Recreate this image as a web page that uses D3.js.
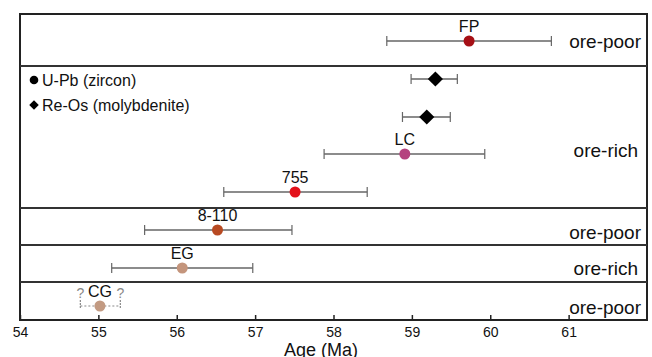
<!DOCTYPE html>
<html><head><meta charset="utf-8">
<script src="https://cdn.jsdelivr.net/npm/d3@7"></script>
<style>body{margin:0;background:#fff}svg{display:block;font-family:Arial,"Liberation Sans",sans-serif}</style>
</head><body><svg id="c" width="652" height="357"></svg>
<script>
const names = ["FP","Re-Os 1","Re-Os 2","LC","755","8-110","EG","CG"];
const ages  = [59.73, 59.30, 59.19, 58.91, 57.51, 56.52, 56.07, 55.02];
const lows  = [58.68, 58.99, 58.88, 57.88, 56.60, 55.59, 55.17, 54.77];
const highs = [60.78, 59.58, 59.49, 59.93, 58.43, 57.47, 56.97, 55.28];
const methods = ["U-Pb","Re-Os","Re-Os","U-Pb","U-Pb","U-Pb","U-Pb","U-Pb"];
const colors = ["#a50f15","#000000","#000000","#b5427f","#e3111a","#b84a22","#c4957c","#c29a82"];
const showLabel = [true,false,false,true,true,true,true,true];
const slots = [0,1,2,3,4,5,6,7];
const rowLabels = ["ore-poor","ore-rich","ore-poor","ore-rich","ore-poor"];
const xTicks = [54,55,56,57,58,59,60,61];

const svg = d3.select("#c");
const L=20, R=647, T=14, B=320;
const x = d3.scaleLinear().domain([54,62]).range([L,R]);
const y = d3.scaleLinear().domain([0,1,2,3,4,5,6,7]).range([41,79,117,154,192,230,268,306]);
const bnd = d3.scaleLinear().domain([0,1,2,3,4,5]).range([T,66,208,245,282,B]);

svg.append("rect").attr("x",L).attr("y",T).attr("width",R-L).attr("height",B-T)
  .attr("fill","none").attr("stroke","#222").attr("stroke-width",2);
[1,2,3,4].forEach(i=>svg.append("line").attr("x1",L).attr("x2",R).attr("y1",bnd(i)).attr("y2",bnd(i))
  .attr("stroke","#333").attr("stroke-width",2));

const ax = svg.append("g").attr("transform",`translate(0,${B})`)
  .call(d3.axisBottom(x).tickValues(xTicks).tickSizeInner(-5).tickSizeOuter(0).tickPadding(7).tickFormat(d3.format("d")));
ax.select(".domain").remove();
ax.selectAll(".tick line").attr("stroke","#222").attr("stroke-width",1.5);
ax.selectAll(".tick text").attr("font-size",14).attr("fill","#111").attr("font-family","Arial,'Liberation Sans',sans-serif");
svg.append("text").attr("x",x(57.84)).attr("y",356).attr("text-anchor","middle").attr("font-size",18).attr("fill","#111").text("Age (Ma)");

rowLabels.forEach((t,i)=>{
  let yy;
  if(i===0) yy = y(0)+7;
  else if(i===1) yy = y(3)+3;
  else if(i===3) yy = y(6)+7;
  else yy = bnd(i+1)-6;
  svg.append("text").attr("x",i===1||i===3?638:641).attr("y",yy).attr("text-anchor","end")
    .attr("font-size",19).attr("fill","#111").text(t);
});

slots.forEach(i=>{
  const dotted = names[i]==="CG";
  const g = svg.append("g").attr("stroke", dotted?"#888":"#666");
  g.append("line").attr("x1",x(lows[i])).attr("x2",x(highs[i])).attr("y1",y(i)).attr("y2",y(i))
    .attr("stroke-dasharray",dotted?"2,2":null).attr("stroke-width",dotted?1.2:1.5);
  [lows[i],highs[i]].forEach(v=>g.append("line").attr("x1",x(v)).attr("x2",x(v))
    .attr("y1",y(i)-(dotted?6:5)).attr("y2",y(i)+(dotted?3:5)).attr("stroke-dasharray",dotted?"2,1":null).attr("stroke-width",1.2));
  if(dotted){
    [lows[i],highs[i]].forEach(v=>svg.append("text").attr("x",x(v)).attr("y",y(i)-8).attr("text-anchor","middle")
      .attr("font-size",14).attr("fill","#888").text("?"));
  }
});

slots.forEach(i=>{
  if(methods[i]==="U-Pb"){
    svg.append("circle").attr("cx",x(ages[i])).attr("cy",y(i)).attr("r",5.5).attr("fill",colors[i]);
  } else {
    svg.append("path").attr("d",d3.symbol().type(d3.symbolSquare).size(115)())
      .attr("transform",`translate(${x(ages[i])},${y(i)}) rotate(45)`).attr("fill",colors[i]);
  }
  if(showLabel[i]){
    svg.append("text").attr("x",x(ages[i])).attr("y",y(i)-9).attr("text-anchor","middle")
      .attr("font-size",16).attr("fill","#111").text(names[i]);
  }
});

const leg = [{m:"U-Pb",t:"U-Pb (zircon)"},{m:"Re-Os",t:"Re-Os (molybdenite)"}];
leg.forEach((d,i)=>{
  const yy = 80 + i*25;
  if(d.m==="U-Pb") svg.append("circle").attr("cx",34).attr("cy",yy).attr("r",4.3).attr("fill","#000");
  else svg.append("path").attr("d",d3.symbol().type(d3.symbolSquare).size(45)()).attr("transform",`translate(34,${yy}) rotate(45)`).attr("fill","#000");
  svg.append("text").attr("x",42).attr("y",yy+5.5).attr("font-size",16).attr("fill","#111").text(d.t);
});
</script></body></html>
